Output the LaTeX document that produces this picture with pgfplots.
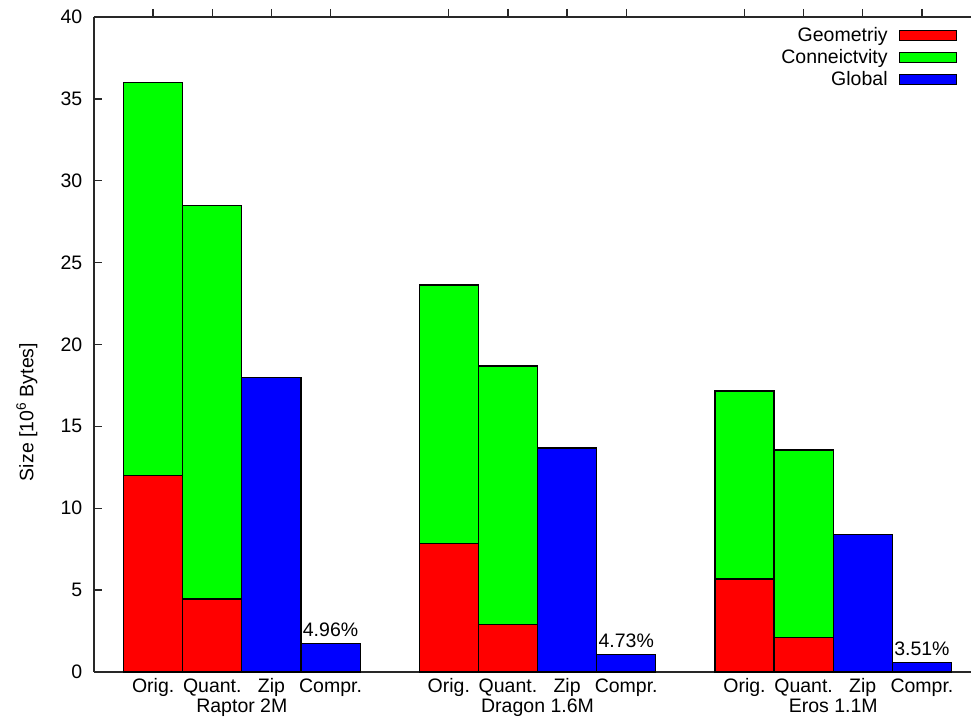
\documentclass[border=0pt]{standalone}
\usepackage{pgfplots}
\pgfplotsset{compat=1.18}
\usepackage{fontspec}
\setmainfont{Liberation Sans}
\definecolor{gred}{RGB}{255,0,0}
\definecolor{ggreen}{RGB}{0,255,0}
\definecolor{gblue}{RGB}{0,0,255}
\definecolor{axgray}{RGB}{40,40,40}
\newcommand{\cf}{\fontsize{19.5}{23}\selectfont}
\begin{document}
\cf
\begin{tikzpicture}
\useasboundingbox (-94pt,-44pt) rectangle (877pt,672pt);
\begin{axis}[
  at={(0pt,0pt)}, anchor=south west,
  scale only axis, width=877pt, height=655pt,
  xmin=-1, xmax=13.83, ymin=0, ymax=40,
  clip=false,
  axis y line*=left, axis x line*=box,
  axis line style={axgray, line width=1.3pt},
  every tick/.style={axgray, line width=1.3pt},
  major tick length=8pt,
  tick align=inside,
  xtick pos=right, xticklabel pos=lower,
  ytick={0,5,...,40},
  xtick={0,1,2,3,5,6,7,8,10,11,12,13},
  xticklabels={Orig.,Quant.,Zip,Compr.,Orig.,Quant.,Zip,Compr.,Orig.,Quant.,Zip,Compr.},
  xticklabel style={anchor=base, yshift=-12pt, inner sep=0pt},
  yticklabel style={xshift=-5pt},
  /pgf/number format/assume math mode=true,
  tick label style={font=\cf},
  ylabel={Size [10\textsuperscript{6} Bytes]},
  ylabel style={at={(axis description cs:-0.0764,0.397)}, anchor=center, rotate=0, font=\cf},
  ybar, bar width=1,
  legend plot pos=right, legend cell align=right,
  legend image code/.code={\draw[#1, line width=1.2pt] (0pt,-5pt) rectangle (57pt,5pt);},
  legend style={draw=none, fill=none, at={(rel axis cs:1,1)}, anchor=north east, xshift=-12pt, yshift=-6pt, font=\cf, row sep=1pt, column sep=9pt, inner sep=2pt},
]
\addlegendimage{fill=gred, draw=black}
\addlegendentry{Geometriy}
\addlegendimage{fill=ggreen, draw=black}
\addlegendentry{Conneictvity}
\addlegendimage{fill=gblue, draw=black}
\addlegendentry{Global}
% Geometry + Connectivity totals
\addplot[forget plot, bar shift=0pt, fill=ggreen, draw=black, line width=1.2pt] coordinates {(0,36) (1,28.5) (5,23.63) (6,18.69) (10,17.16) (11,13.56)};
% Geometry
\addplot[forget plot, bar shift=0pt, fill=gred, draw=black, line width=1.2pt] coordinates {(0,12) (1,4.46) (5,7.84) (6,2.91) (10,5.68) (11,2.1)};
% Global Zip
\addplot[forget plot, bar shift=0pt, fill=gblue, draw=black, line width=1.2pt] coordinates {(2,18) (7,13.68) (12,8.38)};
% Global Compr
\addplot[forget plot, bar shift=0pt, fill=gblue, draw=black, line width=1.2pt,
  point meta=explicit symbolic, nodes near coords,
  every node near coord/.style={font=\cf, text=black, anchor=south, yshift=0pt}]
  coordinates {(3,1.75) [4.96\%] (8,1.08) [4.73\%] (13,0.58) [3.51\%]};
\node[anchor=base, yshift=-40pt, font=\cf] at (axis cs:1.5,0) {Raptor 2M};
\node[anchor=base, yshift=-40pt, font=\cf] at (axis cs:6.5,0) {Dragon 1.6M};
\node[anchor=base, yshift=-40pt, font=\cf] at (axis cs:11.5,0) {Eros 1.1M};
\end{axis}
\end{tikzpicture}
\end{document}
